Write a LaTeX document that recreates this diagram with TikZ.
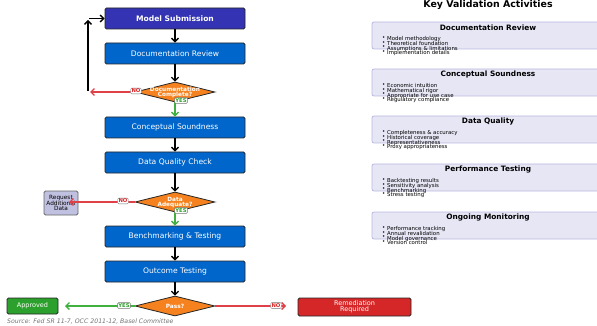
\documentclass[tikz,border=0pt]{standalone}
\usepackage{fontspec}
\setmainfont{DejaVu Sans}
\usetikzlibrary{arrows.meta,shapes.geometric}
\definecolor{msblue}{RGB}{51,51,179}
\definecolor{stepblue}{RGB}{0,102,204}
\definecolor{diaor}{RGB}{245,130,30}
\definecolor{okgreen}{RGB}{44,160,44}
\definecolor{badred}{RGB}{214,39,40}
\definecolor{arrred}{RGB}{224,64,72}
\definecolor{arrgreen}{RGB}{64,176,64}
\definecolor{reqfill}{RGB}{192,192,224}
\definecolor{panelfill}{RGB}{230,230,245}
\definecolor{panelline}{RGB}{184,184,224}
\newcommand{\tightlines}{\lineskiplimit=-20pt\lineskip=0pt}
\tikzset{
  x=1pt, y=-1pt,
  flowbox/.style={draw=black!85, line width=0.9pt, rounded corners=1.5pt, fill=stepblue,
    minimum width=140pt, minimum height=21pt, inner sep=0pt, text=white,
    font=\fontsize{7.6}{8}\selectfont},
  dia/.style={draw=black!85, line width=0.8pt, fill=diaor, diamond, inner sep=0pt,
    minimum width=80pt, minimum height=20pt},
  diatext/.style={text=white, align=center, inner sep=0pt,
    font=\fontsize{5.8}{5}\selectfont\bfseries\tightlines},
  tag/.style={draw=black!55, fill=white, rounded corners=1pt, inner sep=0.8pt,
    font=\fontsize{5.3}{6}\selectfont\bfseries},
  flowarr/.style={line width=1.3pt, -{Straight Barb[length=3.5pt,width=7pt]}},
  panel/.style={draw=panelline, line width=0.8pt, fill=panelfill, rounded corners=2pt},
  ptitle/.style={font=\fontsize{7.4}{8}\selectfont\bfseries, inner sep=0pt},
  pitems/.style={anchor=north west, align=left, inner sep=0pt,
    font=\fontsize{5.4}{4.6}\selectfont\tightlines},
}
\begin{document}
\begin{tikzpicture}
\useasboundingbox (0,0) rectangle (597,326);
% flow chart
\node[flowbox, fill=msblue, font=\fontsize{7.6}{8}\selectfont\bfseries] (ms) at (175,18.5) {Model Submission};
\node[flowbox] (dr) at (175,53.5) {Documentation Review};
\node[dia] (d1) at (175,92) {};
\node[diatext] (d1t) at (175,92.5) {Documentation\\Complete?};
\node[flowbox] (cs) at (175,127.5) {Conceptual Soundness};
\node[flowbox] (dq) at (175,162.5) {Data Quality Check};
\node[dia] (d2) at (175,202) {};
\node[diatext] (d2t) at (175,202.5) {Data\\Adequate?};
\node[flowbox] (bt) at (175,236.5) {Benchmarking \& Testing};
\node[flowbox] (ot) at (175,271.5) {Outcome Testing};
\node[dia] (d3) at (175,306) {};
\node[diatext] (d3t) at (175,306) {Pass?};
\node[draw=black!85, line width=0.9pt, rounded corners=1.5pt, fill=okgreen, text=white,
  minimum width=51pt, minimum height=16pt, inner sep=0pt, font=\fontsize{6.5}{7}\selectfont] (ap) at (32.5,306) {Approved};
\node[draw=black!85, line width=0.9pt, rounded corners=1.5pt, fill=badred, text=white, align=center,
  minimum width=113pt, minimum height=18pt, inner sep=0pt, font=\fontsize{6.5}{5.6}\selectfont\tightlines] (rr) at (354.5,307) {Remediation\\Required};
\node[draw=black!60, line width=0.8pt, rounded corners=1.5pt, fill=reqfill, align=center,
  minimum width=34pt, minimum height=24pt, inner sep=0pt, font=\fontsize{5.8}{5.8}\selectfont\tightlines] (rq) at (61,203) {Request\\Additional\\Data};
% coordinates for feedback loop
\coordinate (fbend) at (90,92);
\coordinate (fb1) at (88,91);
\coordinate (fb2) at (88,20);
\coordinate (fb3) at (89,18.5);
\coordinate (rqend) at (69,202);
\coordinate (rrend) at (286,306);
\coordinate (apend) at (65,306);
% arrows
\draw[flowarr] (ms.south) -- (dr.north);
\draw[flowarr] (dr.south) -- (d1.north);
\draw[flowarr, arrgreen] (d1.south) -- (cs.north);
\draw[flowarr] (cs.south) -- (dq.north);
\draw[flowarr] (dq.south) -- (d2.north);
\draw[flowarr, arrgreen] (d2.south) -- (bt.north);
\draw[flowarr] (bt.south) -- (ot.north);
\draw[flowarr] (ot.south) -- (d3.north);
\draw[flowarr, arrred] (d1.west) -- (fbend);
\draw[flowarr] (fb1) -- (fb2);
\draw[flowarr] (fb3) -- (ms.west);
\draw[flowarr, arrred] (d2.west) -- (rqend);
\draw[flowarr, arrgreen] (d3.west) -- (apend);
\draw[flowarr, arrred] (d3.east) -- (rrend);
% tags
\node[tag, text=badred] (n1) at (136,91) {NO};
\node[tag, text=okgreen] (y1) at (181,100.5) {YES};
\node[tag, text=badred] (n2) at (123,201) {NO};
\node[tag, text=okgreen] (y2) at (181,210.5) {YES};
\node[tag, text=okgreen] (y3) at (124,305.5) {YES};
\node[tag, text=badred] (n3) at (276,305.5) {NO};
\node[anchor=west, inner sep=0pt, text=black!55, font=\fontsize{6.2}{7}\selectfont\itshape] (src) at (7,322) {Source: Fed SR 11-7, OCC 2011-12, Basel Committee};
% right panel
\node[font=\fontsize{9.4}{10}\selectfont\bfseries, inner sep=0pt] (kt) at (488,5) {Key Validation Activities};
\foreach \t/\tt/\items in {22/Documentation Review/{Model methodology\\Theoretical foundation\\Assumptions \& limitations\\Implementation details},
  69/Conceptual Soundness/{Economic intuition\\Mathematical rigor\\Appropriate for use case\\Regulatory compliance},
  116/Data Quality/{Completeness \& accuracy\\Historical coverage\\Representativeness\\Proxy appropriateness},
  164/Performance Testing/{Backtesting results\\Sensitivity analysis\\Benchmarking\\Stress testing},
  212/Ongoing Monitoring/{Performance tracking\\Annual revalidation\\Model governance\\Version control}}{
  \draw[panel] (372,\t) rectangle (603,\t+27);
  \node[ptitle] at (488,\t+5.5) {\tt};
  \node[pitems] at (382,\t+14.5) {•\\•\\•\\•};
  \node[pitems] at (387,\t+14.5) {\items};
}
\end{tikzpicture}
\end{document}
